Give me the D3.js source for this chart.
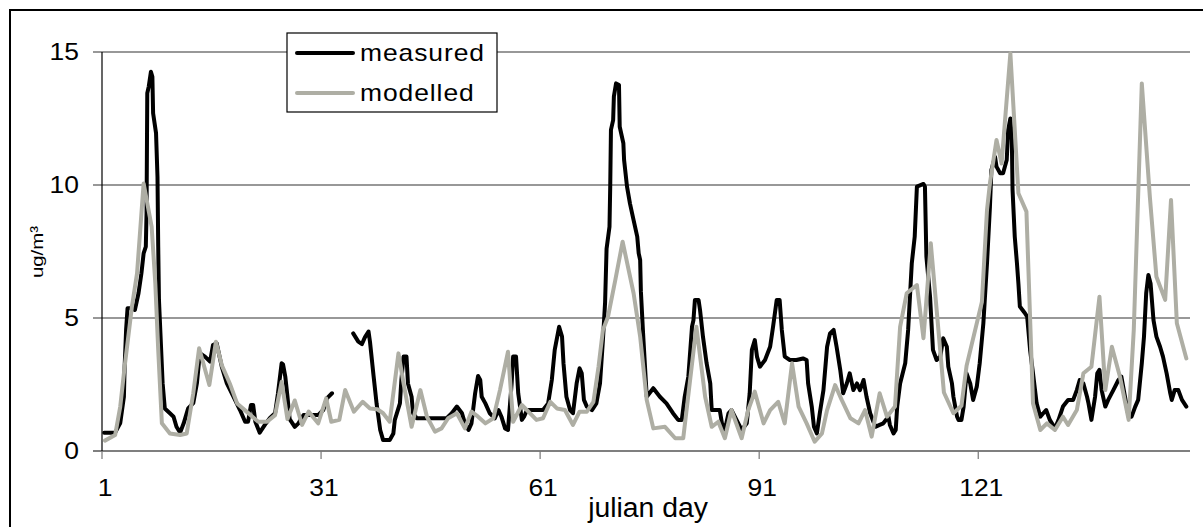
<!DOCTYPE html>
<html>
<head>
<meta charset="utf-8">
<script src="https://cdn.jsdelivr.net/npm/d3@7"></script>
<style>
body{margin:0;background:#fff;}
text{font-family:"Liberation Sans",Arial,sans-serif;fill:#000;}
</style>
</head>
<body>
<div id="svg-container"></div>
<script>
// measured series (null = missing data)
var measuredDays = [1.3,2.8,3.5,4.0,4.1,4.3,4.5,5.1,5.5,6.0,6.4,6.7,7.0,7.1,7.2,7.4,7.7,7.9,8.0,8.4,8.6,8.7,8.8,9.0,9.3,9.6,10.3,10.8,11.2,11.7,12.2,12.8,13.5,14.0,14.4,15.1,15.8,16.2,16.7,17.4,18.1,19.0,19.9,20.6,21.0,21.4,21.7,22.0,22.6,23.3,24.0,24.7,25.1,25.6,25.8,26.1,26.4,26.7,27.4,27.9,28.6,30.6,31.3,31.8,32.5,
  34.0,
  35.4,36.1,36.6,37.0,37.5,37.7,38.2,38.6,39.1,39.5,40.4,40.9,41.1,41.8,42.0,42.3,42.7,42.9,43.4,43.6,44.1,48.2,48.9,49.6,50.3,50.7,51.2,51.6,52.1,52.5,52.8,53.0,53.5,54.1,54.8,55.3,55.7,56.2,56.6,57.1,57.3,57.7,58.0,58.5,58.8,59.2,61.4,62.1,62.6,63.0,63.6,64.0,64.2,64.6,65.1,65.5,66.0,66.4,66.7,67.0,67.4,68.1,68.7,69.2,69.6,69.9,70.1,70.5,70.6,70.7,71.0,71.1,71.4,71.8,71.9,72.4,72.5,72.9,73.3,73.8,74.3,74.5,74.7,74.8,75.1,75.6,76.5,77.4,78.3,79.2,79.9,80.4,80.8,81.3,81.8,82.0,82.2,82.7,82.9,83.3,83.8,84.3,84.5,85.6,85.9,86.3,86.8,87.2,87.9,88.6,89.3,89.7,90.0,90.4,90.7,91.1,91.8,92.5,92.9,93.4,93.8,94.1,94.5,95.2,96.1,97.0,97.5,97.7,98.2,98.5,98.9,99.3,99.8,100.3,100.7,101.2,101.6,102.1,102.5,103.0,103.4,103.9,104.4,104.8,105.3,105.7,106.2,106.9,107.5,108.0,108.7,108.9,109.4,109.7,109.9,110.3,111.0,111.4,111.9,112.3,112.6,113.5,113.7,113.9,114.4,114.8,115.3,115.8,116.2,116.7,116.9,117.4,117.6,118.1,118.3,118.7,119.0,119.4,119.9,120.3,120.8,121.2,121.7,122.2,122.6,122.8,123.3,123.5,124.0,124.4,124.9,125.1,125.4,125.6,125.7,126.0,126.3,126.5,126.7,127.4,127.7,128.1,128.5,129.0,129.5,129.9,130.3,130.8,131.5,132.0,132.6,133.3,134.0,134.5,134.9,135.4,135.9,136.1,136.5,137.0,137.3,137.6,137.9,138.4,138.8,139.5,140.2,140.6,141.1,141.6,142.0,142.5,142.9,143.4,143.7,144.0,144.3,144.6,145.0,145.4,145.9,146.3,146.8,147.3,147.5,147.9,148.4,148.9,149.5];
var measuredValues = [0.69,0.69,1.05,2.04,3.17,4.55,5.37,5.37,5.3,5.93,6.68,7.43,7.68,8.94,13.45,13.7,14.26,14.07,12.7,11.95,10.3,7.68,5.68,4.43,2.55,1.6,1.42,1.29,0.91,0.69,1.05,1.6,1.8,2.55,3.68,3.55,3.36,3.98,4.05,3.17,2.54,2.04,1.54,1.1,1.1,1.73,1.73,1.1,0.69,0.98,1.24,1.42,2.17,3.3,3.25,2.8,2.04,1.2,0.91,1.04,1.35,1.35,1.54,1.98,2.17,
  null,
  4.42,4.11,4.02,4.27,4.49,4.11,2.8,1.79,0.79,0.41,0.41,0.66,1.17,1.79,2.67,3.55,3.55,2.54,2.04,1.42,1.23,1.23,1.42,1.67,1.42,1.04,0.79,1.04,2.17,2.82,2.67,2.04,1.79,1.42,1.23,1.54,1.29,0.85,0.79,2.54,3.55,3.55,2.17,1.17,1.29,1.54,1.54,1.79,2.67,3.8,4.67,4.3,3.3,2.04,1.54,1.42,2.54,3.11,2.92,1.92,1.67,1.54,1.79,2.54,4.17,5.6,7.6,8.43,9.94,12.07,12.44,13.32,13.82,13.76,12.19,11.57,10.94,9.94,9.31,8.68,8.06,7.43,7.18,6.0,4.42,2.04,2.36,2.04,1.79,1.42,1.17,1.17,2.04,2.8,4.67,4.92,5.68,5.68,5.3,4.3,3.3,2.54,1.54,1.54,1.04,0.79,1.42,1.54,1.17,0.79,1.04,2.17,3.8,4.17,3.55,3.17,3.42,3.92,4.67,5.68,5.68,4.55,3.55,3.42,3.42,3.48,3.42,2.54,1.67,0.91,0.66,1.42,2.29,3.92,4.42,4.55,3.92,3.05,2.17,2.54,2.92,2.29,2.54,2.29,2.67,2.04,1.42,0.91,0.98,1.04,1.29,0.98,0.66,0.79,1.67,2.54,3.3,4.55,7.06,8.06,9.94,10.04,9.94,7.31,5.8,3.8,3.42,3.55,4.24,3.92,3.17,2.54,2.04,1.29,1.17,1.17,1.67,2.92,2.54,1.92,2.42,3.3,4.8,7.06,9.18,10.56,11.06,10.69,10.44,10.44,10.94,12.07,12.5,11.69,9.81,8.06,7.06,6.3,5.43,5.18,5.05,3.8,2.92,1.79,1.29,1.42,1.54,1.17,0.85,1.17,1.67,1.92,1.92,2.29,2.67,2.54,2.04,1.79,1.17,2.04,2.92,3.05,2.29,1.67,1.92,2.29,2.67,2.8,2.04,1.29,1.29,1.67,1.92,3.3,4.3,5.93,6.62,6.3,4.92,4.3,3.92,3.55,2.92,2.17,1.92,2.29,2.29,1.92,1.67];

// modelled series
var modelledDays = [1.4,2.8,3.5,4.1,5.1,5.8,6.7,7.8,8.3,8.7,9.2,10.3,11.7,12.6,13.5,14.3,15.7,16.6,17.4,18.5,19.5,20.8,22.4,23.6,24.7,25.6,26.4,27.4,28.4,29.3,30.6,31.7,32.4,33.5,34.3,35.5,36.7,37.7,38.7,39.5,40.4,41.6,42.3,43.4,44.6,45.5,46.6,47.5,48.4,49.6,50.7,51.6,52.5,53.5,54.6,55.5,56.6,57.3,58.5,59.6,60.5,61.4,62.4,63.3,64.4,65.5,66.4,67.4,68.3,69.0,69.6,70.3,71.3,72.3,73.8,74.7,75.6,76.5,78.1,79.5,80.6,82.4,83.6,84.5,85.4,86.3,87.2,88.6,89.5,90.4,91.6,92.5,93.6,94.5,95.5,96.4,97.5,98.6,99.6,100.3,101.4,102.3,103.5,104.6,105.5,106.4,107.5,108.5,109.6,110.3,111.2,112.6,113.5,114.5,116.3,117.6,118.7,119.4,121.5,122.2,122.6,123.5,124.2,125.4,126.5,127.6,128.5,129.5,130.4,131.5,132.6,133.3,134.5,135.4,136.5,137.6,138.4,139.3,140.4,141.6,142.3,143.4,144.5,145.4,146.6,147.4,148.2,149.5];
var modelledValues = [0.39,0.6,1.67,3.17,5.43,6.68,10.06,8.43,6.3,3.8,1.04,0.66,0.6,0.66,2.17,3.86,2.48,4.11,3.23,2.54,1.79,1.48,1.1,1.1,1.35,2.6,1.2,1.9,0.98,1.48,1.04,1.98,1.1,1.17,2.29,1.48,1.85,1.6,1.57,1.42,1.1,3.67,2.54,0.91,2.29,1.29,0.73,0.85,1.23,1.42,0.85,1.48,1.29,1.04,1.23,2.29,3.73,1.1,1.73,1.42,1.17,1.23,1.85,1.6,1.54,0.98,1.48,1.48,1.85,3.17,4.55,5.05,6.43,7.87,5.93,4.3,1.92,0.85,0.91,0.48,0.48,4.67,2.04,0.91,1.1,0.48,1.54,0.48,1.54,2.23,1.04,1.54,1.85,1.04,3.3,1.67,1.04,0.35,0.66,1.54,2.48,1.92,1.23,1.04,1.54,0.54,2.17,1.29,1.67,4.67,5.93,6.24,4.24,7.81,2.2,1.42,1.7,3.2,5.6,9.06,10.06,11.69,10.81,14.95,9.69,9.0,1.79,0.79,1.04,0.79,1.29,0.98,1.54,2.92,3.17,5.8,2.29,3.92,2.8,1.17,4.55,13.82,9.56,6.55,5.68,9.44,4.8,3.48];

var seriesNames = ["measured","modelled"];
var seriesColors = ["#000000","#aeaea4"];
var xTicks = [1,31,61,91,121];
var yTicks = [0,5,10,15];
var xTitle = "julian day";
var yTitle = "ug/m\u00b3";

var svg = d3.select("#svg-container").append("svg").attr("width",1203).attr("height",527);

var x = d3.scaleLinear().domain([1,150]).range([102,1190]);
var y = d3.scaleLinear().domain([0,15]).range([451,52]);

// outer chart border
svg.append("rect").attr("x",10).attr("y",10).attr("width",1205).attr("height",540)
  .attr("fill","#fff").attr("stroke","#000").attr("stroke-width",2);

// horizontal gridlines
svg.selectAll(".grid").data(yTicks).enter().append("line").attr("class","grid")
  .attr("x1",93).attr("x2",x(150)).attr("y1",function(d){return y(d);}).attr("y2",function(d){return y(d);})
  .attr("stroke",function(d){return d===0?"#000":"#333";}).attr("stroke-width",1.2);

// y axis
svg.append("line").attr("x1",x(1)).attr("x2",x(1)).attr("y1",y(15)).attr("y2",y(0)).attr("stroke","#000").attr("stroke-width",1.2);

svg.selectAll(".ylab").data(yTicks).enter().append("text").attr("class","ylab")
  .attr("transform",function(d){return "translate(79,"+(y(d)+8)+") scale(1.15,1)";})
  .attr("text-anchor","end").attr("font-size",23).text(function(d){return d;});

// x ticks
svg.selectAll(".xtick").data(xTicks).enter().append("line").attr("class","xtick")
  .attr("x1",function(d){return x(d);}).attr("x2",function(d){return x(d);})
  .attr("y1",y(0)).attr("y2",y(0)+8).attr("stroke","#777").attr("stroke-width",1.2);

svg.selectAll(".xlab").data(xTicks).enter().append("text").attr("class","xlab")
  .attr("transform",function(d){return "translate("+(x(d)+3)+",495.5) scale(1.15,1)";})
  .attr("text-anchor","middle").attr("font-size",23).text(function(d){return d;});

svg.append("text").attr("transform","translate(648,517) scale(1.05,1)").attr("text-anchor","middle")
  .attr("font-size",27).text(xTitle);

svg.append("text").attr("transform","translate(43,252) rotate(-90) scale(1.2,1)").attr("text-anchor","middle")
  .attr("font-size",17).text(yTitle);

// lines
var line = d3.line()
  .defined(function(d){return d[1]!==null;})
  .x(function(d){return x(d[0]);})
  .y(function(d){return y(d[1]);});

var measured = measuredDays.map(function(d,i){return [d,measuredValues[i]];});
var modelled = modelledDays.map(function(d,i){return [d,modelledValues[i]];});

svg.append("path").datum(measured).attr("d",line).attr("fill","none")
  .attr("stroke",seriesColors[0]).attr("stroke-width",4).attr("stroke-linejoin","round").attr("stroke-linecap","round");
svg.append("path").datum(modelled).attr("d",line).attr("fill","none")
  .attr("stroke",seriesColors[1]).attr("stroke-width",4).attr("stroke-linejoin","round").attr("stroke-linecap","round");

// legend
var legend = svg.append("g");
legend.append("rect").attr("x",287).attr("y",33).attr("width",210).attr("height",79)
  .attr("fill","#fff").attr("stroke","#000").attr("stroke-width",1.2);
seriesNames.forEach(function(name,i){
  var ly = 53 + i*40;
  legend.append("line").attr("x1",297).attr("x2",353).attr("y1",ly).attr("y2",ly)
    .attr("stroke",seriesColors[i]).attr("stroke-width",4).attr("stroke-linecap","round");
  legend.append("text").attr("transform","translate(360,"+(ly+7.5)+") scale(1.15,1)")
    .attr("font-size",23).attr("letter-spacing",0.8).text(name);
});
</script>
</body>
</html>
